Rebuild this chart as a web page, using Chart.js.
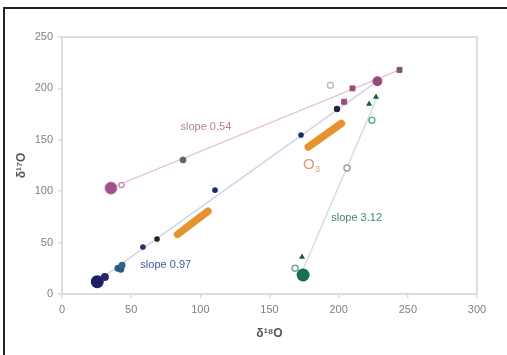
<!DOCTYPE html>
<html lang="en">
<head>
    <meta charset="UTF-8">
    <title>d17O vs d18O</title>
    <script src="https://cdn.jsdelivr.net/npm/chart.js"></script>
    <style>
        body { margin: 0; background: #fff; }
        #wrap { width: 507px; height: 355px; position: relative; }
    </style>
</head>
<body>
<div id="wrap"><canvas id="isoChart" width="507" height="355"></canvas></div>
<script>
    // slope 0.54 group (pink / purple)
    const pinkX = [35.4, 87.5, 204, 210, 228, 244];
    const pinkY = [103, 130.4, 187, 200, 207, 218];
    const pinkOpenX = [43, 194];
    const pinkOpenY = [106, 203];

    // slope 0.97 group (navy)
    const navyX = [25.5, 31, 40.5, 42.5, 43.4, 58.5, 68.7, 110.6, 172.8, 198.8];
    const navyY = [12, 16.5, 25, 24, 28, 45.7, 53.5, 101, 154.7, 180];

    // slope 3.12 group (green)
    const greenX = [174.3];
    const greenY = [18.5];
    const greenTriX = [173.5, 222, 227];
    const greenTriY = [36, 184.8, 191.6];
    const greenOpenX = [168.5, 206, 224];
    const greenOpenY = [25, 122.6, 169];

    // fitted lines (end points)
    const line054X = [35, 244], line054Y = [103, 218];
    const line097X = [25, 228], line097Y = [12, 207];
    const line312X = [172, 228], line312Y = [17, 192];

    // O3 ellipses (long axis end points)
    const o3LowX = [83.5, 105.5], o3LowY = [58, 80.5];
    const o3HighX = [178, 202], o3HighY = [143, 166];

    // labels
    const noteText = ['slope 0.54', 'slope 0.97', 'slope 3.12'];
    const noteX = [104, 75, 213];
    const noteY = [162.5, 28, 74];
    const noteColor = ['#b0809e', '#3f5a96', '#3f8a72'];
    const o3LabelX = 180, o3LabelY = 126;

    const xTicks = [0, 50, 100, 150, 200, 250, 300];
    const yTicks = [0, 50, 100, 150, 200, 250];

    const pts = (xs, ys) => xs.map((x, i) => ({ x: x, y: ys[i] }));

    // lines sit behind the markers (higher order = drawn first)
    function lineSet(xs, ys, color, width, cap, order) {
        return {
            type: 'line', data: pts(xs, ys), borderColor: color, borderWidth: width,
            borderCapStyle: cap || 'butt', pointRadius: 0, showLine: true, fill: false,
            order: order
        };
    }

    const framePlugin = {
        id: 'frame',
        beforeDraw(chart) {
            const ctx = chart.ctx;
            ctx.save();
            ctx.fillStyle = '#fff';
            ctx.fillRect(0, 0, chart.width, chart.height);
            ctx.strokeStyle = '#222';
            ctx.lineWidth = 2;
            ctx.beginPath();
            ctx.moveTo(chart.width, 8);
            ctx.lineTo(4, 8);
            ctx.lineTo(4, chart.height);
            ctx.stroke();
            ctx.restore();
        },
        afterDraw(chart) {
            const ctx = chart.ctx, a = chart.chartArea;
            const xs = chart.scales.x, ys = chart.scales.y;
            ctx.save();
            ctx.strokeStyle = '#dcdcdc';
            ctx.lineWidth = 2;
            ctx.beginPath();
            ctx.moveTo(a.left, a.top);
            ctx.lineTo(a.right, a.top);
            ctx.lineTo(a.right, a.bottom);
            ctx.stroke();
            ctx.font = '11px Arial';
            ctx.textAlign = 'center';
            ctx.textBaseline = 'middle';
            noteText.forEach((t, i) => {
                ctx.fillStyle = noteColor[i];
                ctx.fillText(t, xs.getPixelForValue(noteX[i]), ys.getPixelForValue(noteY[i]));
            });
            const ox = xs.getPixelForValue(o3LabelX), oy = ys.getPixelForValue(o3LabelY);
            ctx.fillStyle = '#e0957a';
            ctx.font = '15px Arial';
            ctx.textAlign = 'left';
            ctx.fillText('O', ox - 8, oy);
            ctx.font = '9px Arial';
            ctx.fillText('3', ox + 4, oy + 5);
            ctx.restore();
        }
    };

    new Chart(document.getElementById('isoChart'), {
        type: 'scatter',
        data: {
            datasets: [
                lineSet(line054X, line054Y, 'rgba(225,190,210,0.9)', 1.5, 'butt', 10),
                lineSet(line097X, line097Y, 'rgba(200,210,230,0.9)', 1.5, 'butt', 10),
                lineSet(line312X, line312Y, 'rgba(200,225,212,0.9)', 1.5, 'butt', 10),
                lineSet(o3LowX, o3LowY, '#e8922e', 7.5, 'round', 5),
                lineSet(o3HighX, o3HighY, '#e8922e', 7.5, 'round', 5),
                {
                    data: pts(pinkOpenX, pinkOpenY), pointStyle: 'circle', order: 1,
                    pointRadius: [2.5, 3], backgroundColor: '#fff',
                    borderColor: ['#c890b0', '#c0c0c0'], borderWidth: 1.5
                },
                {
                    data: pts(pinkX, pinkY), order: 0,
                    pointStyle: ['circle', 'circle', 'rect', 'rect', 'circle', 'rect'],
                    pointRadius: [6, 3, 3.5, 3.5, 4.5, 3.5],
                    backgroundColor: ['#a0508c', '#6c6070', '#9a4a80', '#a04a7e', '#944a7c', '#7e5868'],
                    borderColor: ['#b878a6', '#6c6070', '#9a4a80', '#a04a7e', '#944a7c', '#7e5868'],
                    borderWidth: 1
                },
                {
                    data: pts(navyX, navyY), pointStyle: 'circle', order: 0,
                    pointRadius: [6.5, 4, 3.5, 3.5, 3.5, 2.8, 2.8, 2.8, 2.8, 3.2],
                    backgroundColor: ['#1e1e64', '#26266c', '#2a5a80', '#2a5a80', '#2e6488', '#263070', '#222', '#1e2a70', '#1e2a70', '#1e2448'],
                    borderWidth: 0
                },
                {
                    data: pts(greenOpenX, greenOpenY), pointStyle: 'circle', order: 1,
                    pointRadius: 3, backgroundColor: '#fff',
                    borderColor: ['#6aae8c', '#a0a0a0', '#6aae8c'], borderWidth: 1.5
                },
                {
                    data: pts(greenX, greenY), pointStyle: 'circle', order: 0,
                    pointRadius: 6.5, backgroundColor: '#16704e', borderWidth: 0
                },
                {
                    data: pts(greenTriX, greenTriY), pointStyle: 'triangle', order: 0,
                    pointRadius: 3.5, backgroundColor: '#1e5a44', borderWidth: 0
                }
            ]
        },
        options: {
            responsive: false,
            animation: false,
            layout: { padding: { left: 10, right: 30, top: 37, bottom: 0 } },
            plugins: { legend: { display: false }, tooltip: { enabled: false } },
            scales: {
                x: {
                    type: 'linear', min: 0, max: 300,
                    afterBuildTicks: s => { s.ticks = xTicks.map(v => ({ value: v })); },
                    afterFit: s => { s.height = 61; },
                    ticks: { color: '#808080', font: { family: 'Arial', size: 11 }, padding: 5 },
                    grid: { drawOnChartArea: false, color: '#dcdcdc', tickLength: 4, lineWidth: 1.5 },
                    border: { color: '#dcdcdc', width: 2 },
                    title: {
                        display: true, text: 'δ¹⁸O', color: '#555',
                        font: { family: 'Arial', size: 12, weight: 'bold' }, padding: { top: 6, bottom: 14 }
                    }
                },
                y: {
                    type: 'linear', min: 0, max: 250,
                    afterBuildTicks: s => { s.ticks = yTicks.map(v => ({ value: v })); },
                    afterFit: s => { s.width = 52; },
                    ticks: { color: '#808080', font: { family: 'Arial', size: 11 }, padding: 5 },
                    grid: { drawOnChartArea: false, color: '#dcdcdc', tickLength: 4, lineWidth: 1.5 },
                    border: { color: '#dcdcdc', width: 2 },
                    title: {
                        display: true, text: 'δ¹⁷O', color: '#555',
                        font: { family: 'Arial', size: 12, weight: 'bold' }, padding: { top: 4, bottom: 4 }
                    }
                }
            }
        },
        plugins: [framePlugin]
    });
</script>
</body>
</html>
